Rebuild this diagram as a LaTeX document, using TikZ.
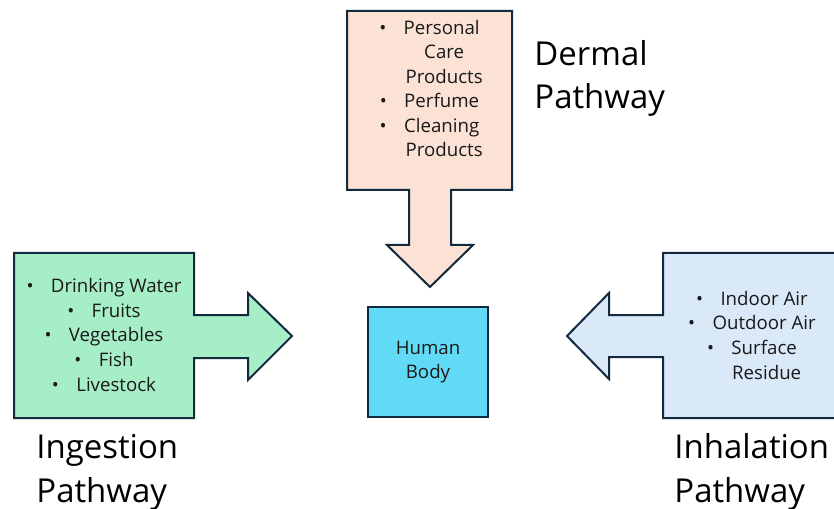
\documentclass[tikz,border=0pt]{standalone}
\usepackage{fontspec}
\setmainfont{Open Sans}
\usepackage{tikz}
\definecolor{dermalFill}{HTML}{FBE2D5}
\definecolor{ingestFill}{HTML}{A6EEC6}
\definecolor{inhaleFill}{HTML}{DAE9F8}
\definecolor{bodyFill}{HTML}{61DAF6}
\definecolor{edgeCol}{HTML}{13293D}
\newcommand{\bul}{\textbullet\hspace{13pt}}
\newcommand{\hang}{\hspace*{22pt}}

\begin{document}
\begin{tikzpicture}[x=0.75pt, y=-0.75pt, line width=1.5pt,
        every node/.style={font=\fontsize{14}{18.4}\selectfont, align=center, text=black!90},
        callout/.style={draw=edgeCol, line join=miter},
        listText/.style={anchor=base},
        pathLabel/.style={font=\fontsize{24.7}{32.3}\selectfont, align=left, anchor=base west, text=black}]
        \useasboundingbox (0,0) rectangle (834,509);
        \clip (0,0) rectangle (834,509);

        % dermal callout, arrow pointing down
        \draw [callout, fill=dermalFill] (347,11) -- (512,11) -- (512,190) -- (451,190) -- (451,245)
            -- (473,245) -- (430,287) -- (387,245) -- (409,245) -- (409,190) -- (347,190) -- cycle;
        % ingestion callout, arrow pointing right
        \draw [callout, fill=ingestFill] (14,253) -- (194,253) -- (194,315) -- (248,315) -- (248,293)
            -- (292,336) -- (248,380) -- (248,358) -- (194,358) -- (194,418) -- (14,418) -- cycle;
        % inhalation callout, arrow pointing left
        \draw [callout, fill=inhaleFill] (841,253) -- (663,253) -- (663,315) -- (609,315) -- (609,293)
            -- (567,336) -- (609,379) -- (609,357) -- (663,357) -- (663,418) -- (841,418) -- cycle;

        \node [draw=edgeCol, fill=bodyFill, minimum width=90pt, minimum height=82.5pt] (humanBody) at (428,362) {Human\\Body};

        % base = baseline of the last line
        \node [listText] (dermalList) at (429.5,157) {\bul Personal\\ \hang Care\\ \hang Products\\ \bul Perfume\\ \bul Cleaning\\ \hang Products};
        \node [listText] (ingestList) at (104,391) {\bul Drinking Water\\ \bul Fruits\\ \bul Vegetables\\ \bul Fish\\ \bul Livestock};
        \node [listText] (inhaleList) at (752,379) {\bul Indoor Air\\ \bul Outdoor Air\\ \bul Surface\\ \hang Residue};

        \node [pathLabel] (dermalLabel) at (529,109) {Dermal\\Pathway};
        \node [pathLabel] (ingestLabel) at (31,502) {Ingestion\\Pathway};
        \node [pathLabel] (inhaleLabel) at (669,502) {Inhalation\\Pathway};
    \end{tikzpicture}
\end{document}
